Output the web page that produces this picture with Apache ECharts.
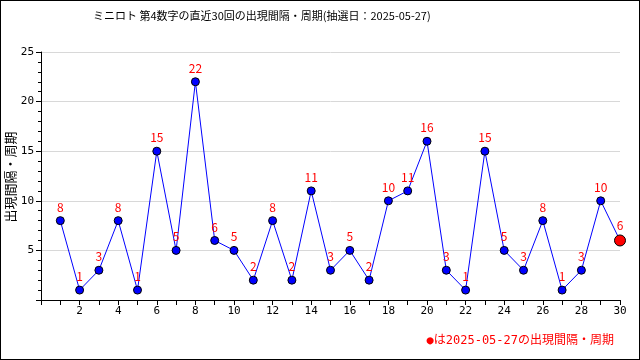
<!DOCTYPE html>
<html><head><meta charset="utf-8">
<script src="https://cdn.jsdelivr.net/npm/echarts@6/dist/echarts.min.js"></script>
<style>html,body{margin:0;padding:0;background:#fff}#c{width:638px;height:358px;border:1px solid #000}</style>
</head><body><div id="c"></div>
<script>
const titleText = 'ミニロト 第4数字の直近30回の出現間隔・周期(抽選日：2025-05-27)';
const yName = '出現間隔・周期';
const noteText = '●は2025-05-27の出現間隔・周期';
const draws = [1,2,3,4,5,6,7,8,9,10,11,12,13,14,15,16,17,18,19,20,21,22,23,24,25,26,27,28,29,30];
const intervals = [8,1,3,8,1,15,5,22,6,5,2,8,2,11,3,5,2,10,11,16,3,1,15,5,3,8,1,3,10,6];

const font = "'DejaVu Sans Mono','Noto Sans CJK JP',monospace";
const sans = "'Noto Sans CJK JP','DejaVu Sans',sans-serif";
const chart = echarts.init(document.getElementById('c'));
const data = draws.map((d,i)=>{
  const item = {value:[d, intervals[i]]};
  if (i === draws.length-1) {
    item.symbolSize = 11;
    item.itemStyle = {color:'#ff0000', borderColor:'#000', borderWidth:1};
  }
  return item;
});
chart.setOption({
  animation:false,
  title:[{text:titleText,left:87,top:4,textStyle:{fontFamily:sans,fontSize:11,fontWeight:'normal',color:'#000'}},
         {text:noteText,right:20,top:329,textStyle:{fontFamily:font,fontSize:12,fontWeight:'normal',color:'#ff0000'}}],
  graphic:[{type:'text',x:9,y:176,rotation:Math.PI/2,
    style:{text:yName,fill:'#000',font:"13px 'Noto Sans CJK JP',sans-serif",textAlign:'center',textVerticalAlign:'middle'}}],
  grid:{left:40,right:19,top:51,bottom:59,outerBoundsMode:'none',containLabel:false},
  xAxis:{type:'value',min:0,max:30,interval:1,
    axisLine:{lineStyle:{color:'#000'}},
    axisTick:{show:true,length:5,lineStyle:{color:'#000'}},
    axisLabel:{fontFamily:font,fontSize:11,color:'#000',margin:6,formatter:v=>(v>0&&v%2===0)?String(v):''},
    splitLine:{show:false}},
  yAxis:{type:'value',min:0,max:25,interval:5,
    axisLine:{show:true,lineStyle:{color:'#000'}},
    axisTick:{show:true,length:5,lineStyle:{color:'#000'}},
    minorTick:{show:true,splitNumber:5,length:3,lineStyle:{color:'#000'}},
    axisLabel:{fontFamily:font,fontSize:11,color:'#000',margin:7,formatter:v=>v===0?'':String(v)},
    splitLine:{show:true,lineStyle:{color:'#d8d8d8'}}},
  series:[{type:'line',data:data,symbol:'circle',symbolSize:8,
    lineStyle:{color:'#0000ff',width:1},
    itemStyle:{color:'#0000ff',borderColor:'#000',borderWidth:1},
    label:{show:true,position:'top',distance:3,color:'#ff0000',fontFamily:sans,fontSize:12},
    z:3}]
});
</script></body></html>
